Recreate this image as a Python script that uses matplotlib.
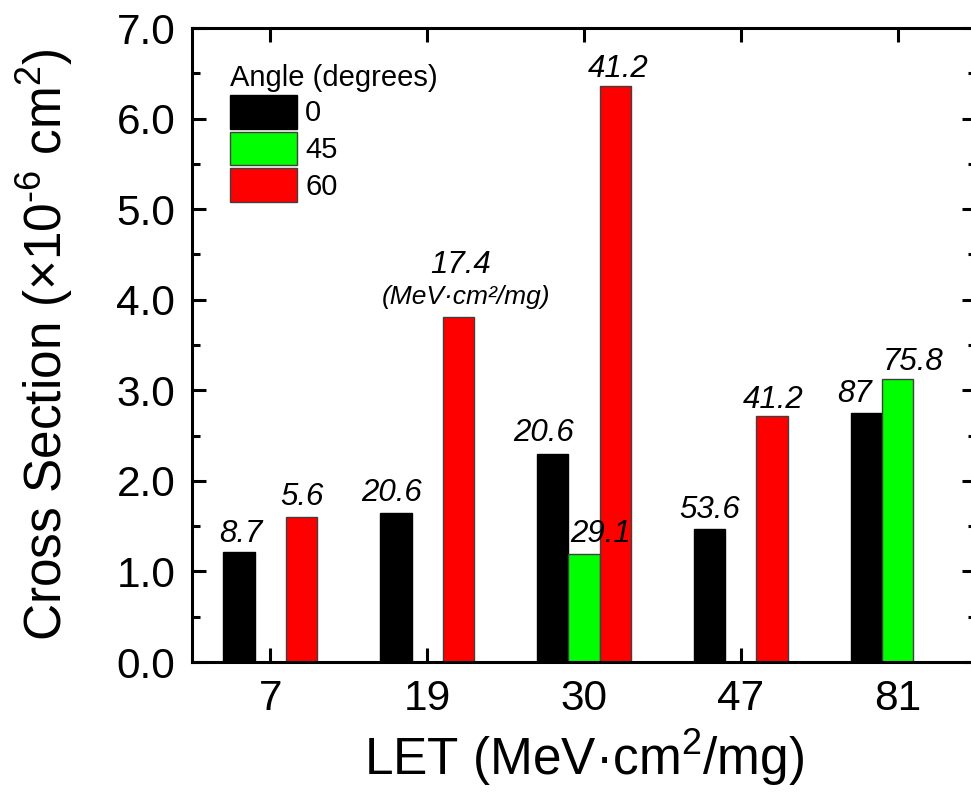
import numpy as np
import matplotlib
matplotlib.use("Agg")
import matplotlib.pyplot as plt

plt.rcParams['font.family'] = ['Liberation Sans', 'DejaVu Sans']
plt.rcParams['mathtext.fontset'] = 'custom'
plt.rcParams['mathtext.rm'] = 'Liberation Sans'
plt.rcParams['mathtext.it'] = 'Liberation Sans:italic'

# ---- data ----
categories = ["7", "19", "30", "47", "81"]
series_names = ["0", "45", "60"]
angle0 = [1.21, 1.65, 2.30, 1.465, 2.75]
angle45 = [np.nan, np.nan, 1.19, np.nan, 3.13]
angle60 = [1.60, 3.81, 6.36, 2.72, np.nan]
labels0 = ["8.7", "20.6", "20.6", "53.6", "87"]
labels45 = [None, None, "29.1", None, "75.8"]
labels60 = ["5.6", "17.4", "41.2", "41.2", None]
colors = ["#000000", "#00FF00", "#FF0000"]
edgecolors = ["#000000", "#404040", "#404040"]

# label nudges in pixels (dx, baseline gap) for hand-placed annotations
nudges0 = [(2, 10), (-4, 12), (-9, 13), (0, 11), (-12, 11)]
nudges45 = [None, None, (17, 12), None, (16, 9)]
nudges60 = [(0, 12), (2, 44), (3, 9), (1, 8), None]

W, H, DPI = 971, 796, 100
fig = plt.figure(figsize=(W / DPI, H / DPI), dpi=DPI)
ax = fig.add_axes([192 / W, (H - 662) / H, (976 - 192) / W, (662 - 28) / H])

x = np.arange(len(categories))
bw = 0.2
all_vals = [angle0, angle45, angle60]
all_labels = [labels0, labels45, labels60]
all_nudges = [nudges0, nudges45, nudges60]
handles = []
for j, (vals, name) in enumerate(zip(all_vals, series_names)):
    b = ax.bar(x + (j - 1) * bw, vals, width=bw, color=colors[j],
               edgecolor=edgecolors[j], linewidth=1.0, label=name, zorder=2)
    handles.append(b)

px2pt = 72 / DPI
for j in range(3):
    for i in range(len(categories)):
        lab = all_labels[j][i]
        if lab is None:
            continue
        dx, dy = all_nudges[j][i]
        v = all_vals[j][i]
        ax.annotate(lab, xy=(x[i] + (j - 1) * bw, v),
                    xytext=(dx * px2pt, dy * px2pt),
                    textcoords="offset points", ha="center", va="baseline",
                    fontsize=22.5, fontstyle="italic", zorder=3)
# unit annotation under 17.4
ax.annotate("(MeV·cm²/mg)", xy=(x[1] + bw, angle60[1]),
            xytext=(7 * px2pt, 13 * px2pt), textcoords="offset points",
            ha="center", va="baseline", fontsize=19, fontstyle="italic")

ax.set_xlim(-0.5, 4.5)
ax.set_ylim(0, 7.0)
ax.set_xticks(x)
ax.set_xticklabels(categories)
ax.set_yticks(np.arange(0, 7.01, 1.0))
ax.set_yticklabels([f"{v:.1f}" for v in np.arange(0, 7.01, 1.0)])
ax.set_yticks(np.arange(0.5, 7.0, 1.0), minor=True)

for s in ax.spines.values():
    s.set_linewidth(2.2)
ax.tick_params(axis="both", which="major", direction="in", length=10, width=2.2,
               labelsize=30.5, top=True, right=True)
ax.tick_params(axis="y", which="minor", direction="in", length=6, width=2.2,
               left=True, right=True)
ax.tick_params(axis="x", which="major", pad=12)
ax.tick_params(axis="y", which="major", pad=12)

ax.set_xlabel("LET (MeV·cm$^2$/mg)", fontsize=37, labelpad=6)
ax.set_ylabel("Cross Section ($\\times$10$^{\u20106}$ cm$^2$)", fontsize=37, labelpad=30)

leg = ax.legend(handles=handles, labels=series_names, title="Angle (degrees)",
                loc="upper left", bbox_to_anchor=((230 - 192) / 784, (662 - 64) / 634),
                frameon=False, fontsize=21, title_fontsize=21,
                handlelength=2.3, handleheight=1.4, handletextpad=0.28,
                labelspacing=0.1, borderpad=0, borderaxespad=0, alignment="left")

fig.savefig("out.png", dpi=DPI)
